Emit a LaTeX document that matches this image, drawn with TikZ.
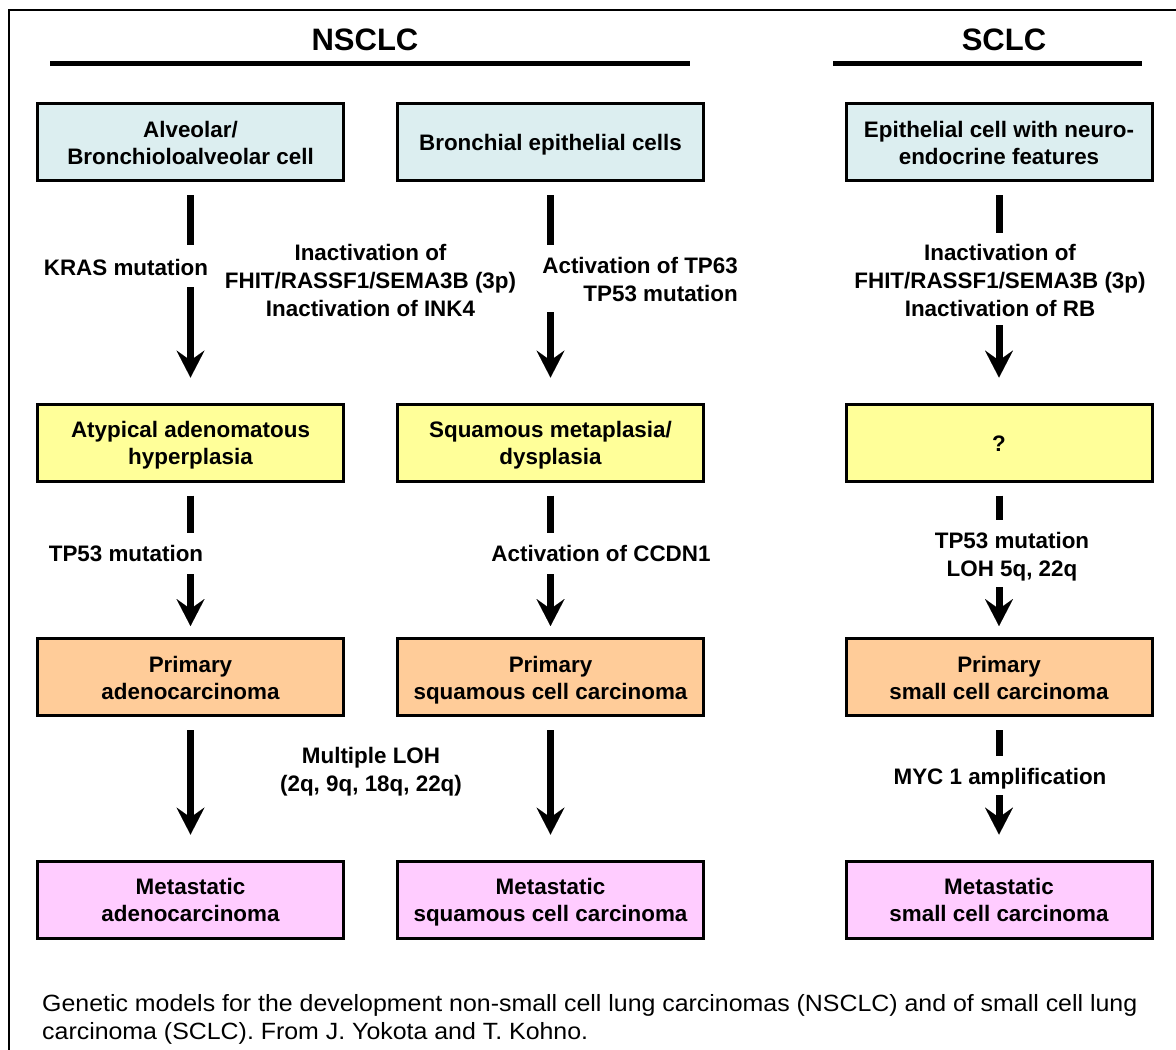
\documentclass[tikz,border=0pt]{standalone}
\usepackage{fontspec}
\setmainfont{Liberation Sans}
\usetikzlibrary{arrows.meta}
\definecolor{cellblue}{RGB}{220,238,240}
\definecolor{hypyellow}{RGB}{255,255,153}
\definecolor{primorange}{RGB}{255,204,153}
\definecolor{metapink}{RGB}{255,204,255}
\newcommand\bxfont{\fontsize{22.4}{27}\selectfont\bfseries}
\newcommand\lbfont{\fontsize{22.4}{28}\selectfont\bfseries}
\newcommand\ttlfont{\fontsize{31}{36}\selectfont\bfseries}
\newcommand\capfont{\fontsize{23.5}{28}\selectfont}
\newcommand\bs{\rule[-5pt]{0pt}{27pt}}
\newcommand\ls{\rule[-6pt]{0pt}{28pt}}
\begin{document}
\begin{tikzpicture}[x=1pt,y=-1pt,
  box/.style={draw=black, line width=3pt, minimum width=306pt, minimum height=77pt,
    inner sep=0pt, outer sep=0pt, align=center, font=\bxfont},
  lbl/.style={align=center, font=\lbfont, inner sep=0pt},
  ttl/.style={font=\ttlfont, inner sep=0pt},
  rule/.style={line width=5pt},
  seg/.style={line width=7pt},
  arr/.style={line width=7pt, -{Stealth[length=27pt,width=28pt,inset=10pt,line width=0.01pt]}},
  frame/.style={line width=2.5pt}
]
\useasboundingbox (0,0) rectangle (1176,1050);
\clip (0,0) rectangle (1176,1050);
\fill[white] (0,0) rectangle (1176,1050);
% outer frame (only top and left edges inside the picture)
\draw[frame] (9,1060) -- (9,10) -- (1190,10);

% titles
\node[ttl] (tn) at (365,40) {NSCLC};
\node[ttl] (ts) at (1004,40) {SCLC};
\draw[rule] (50,63.5) -- (690,63.5);
\draw[rule] (833,63.5) -- (1142,63.5);

% boxes
\node[box, fill=cellblue] (b11) at (190.5,142) {\bs Alveolar/\\\bs Bronchioloalveolar cell};
\node[box, fill=cellblue] (b12) at (550.5,142) {\bs Bronchial epithelial cells};
\node[box, fill=cellblue] (b13) at (999,142) {\bs Epithelial cell with neuro-\\\bs endocrine features};

\node[box, fill=hypyellow] (b21) at (190.5,442.5) {\bs Atypical adenomatous\\\bs hyperplasia};
\node[box, fill=hypyellow] (b22) at (550.5,442.5) {\bs Squamous metaplasia/\\\bs dysplasia};
\node[box, fill=hypyellow] (b23) at (999,442.5) {\bs ?};

\node[box, fill=primorange] (b31) at (190.5,677) {\bs Primary\\\bs adenocarcinoma};
\node[box, fill=primorange] (b32) at (550.5,677) {\bs Primary\\\bs squamous cell carcinoma};
\node[box, fill=primorange] (b33) at (999,677) {\bs Primary\\\bs small cell carcinoma};

\node[box, fill=metapink] (b41) at (190.5,899.5) {\bs Metastatic\\\bs adenocarcinoma};
\node[box, fill=metapink] (b42) at (550.5,899.5) {\bs Metastatic\\\bs squamous cell carcinoma};
\node[box, fill=metapink] (b43) at (999,899.5) {\bs Metastatic\\\bs small cell carcinoma};

% labels
\node[lbl] (l11) at (126,267) {\ls KRAS mutation};
\node[lbl] (l1c) at (370.5,280) {\ls Inactivation of\\\ls FHIT/RASSF1/SEMA3B (3p)\\\ls Inactivation of INK4};
\node[lbl, align=right, anchor=east] (l12) at (738,279.5) {\ls Activation of TP63\\\ls TP53 mutation};
\node[lbl] (l13) at (1000,280) {\ls Inactivation of\\\ls FHIT/RASSF1/SEMA3B (3p)\\\ls Inactivation of RB};
\node[lbl] (l21) at (126,553) {\ls TP53 mutation};
\node[lbl] (l22) at (601,553) {\ls Activation of CCDN1};
\node[lbl] (l23) at (1012,554) {\ls TP53 mutation\\\ls LOH 5q, 22q};
\node[lbl] (l3c) at (371,769.5) {\ls Multiple LOH\\\ls (2q, 9q, 18q, 22q)};
\node[lbl] (l33) at (1000,776) {\ls MYC 1 amplification};

% gap coordinates
\coordinate (a11) at (b11.south |- 0,245);  \coordinate (c11) at (b11.south |- 0,287);
\coordinate (a12) at (b12.south |- 0,245);  \coordinate (c12) at (b12.south |- 0,312);
\coordinate (a13) at (b13.south |- 0,233);  \coordinate (c13) at (b13.south |- 0,325);
\coordinate (a21) at (b21.south |- 0,533);  \coordinate (c21) at (b21.south |- 0,574);
\coordinate (a22) at (b22.south |- 0,533);  \coordinate (c22) at (b22.south |- 0,574);
\coordinate (a23) at (b23.south |- 0,520);  \coordinate (c23) at (b23.south |- 0,587);
\coordinate (a33) at (b33.south |- 0,756);  \coordinate (c33) at (b33.south |- 0,795);

% connectors row 1 -> row 2
\draw[seg, shorten <=14.5pt] (b11.south) -- (a11);
\draw[arr, shorten >=26.5pt] (c11) -- (b21.north);
\draw[seg, shorten <=14.5pt] (b12.south) -- (a12);
\draw[arr, shorten >=26.5pt] (c12) -- (b22.north);
\draw[seg, shorten <=14.5pt] (b13.south) -- (a13);
\draw[arr, shorten >=26.5pt] (c13) -- (b23.north);

% row 2 -> row 3
\draw[seg, shorten <=14.5pt] (b21.south) -- (a21);
\draw[arr, shorten >=12.5pt] (c21) -- (b31.north);
\draw[seg, shorten <=14.5pt] (b22.south) -- (a22);
\draw[arr, shorten >=12.5pt] (c22) -- (b32.north);
\draw[seg, shorten <=14.5pt] (b23.south) -- (a23);
\draw[arr, shorten >=12.5pt] (c23) -- (b33.north);

% row 3 -> row 4
\draw[arr, shorten <=14.5pt, shorten >=26.5pt] (b31.south) -- (b41.north);
\draw[arr, shorten <=14.5pt, shorten >=26.5pt] (b32.south) -- (b42.north);
\draw[seg, shorten <=14.5pt] (b33.south) -- (a33);
\draw[arr, shorten >=26.5pt] (c33) -- (b43.north);

% caption
\node[anchor=west, inner sep=0pt, font=\capfont] (cap) at (42,1019.5) {\scalebox{1.06}[1]{\begin{tabular}{@{}l@{}}Genetic models for the development non-small cell lung carcinomas (NSCLC) and of small cell lung\\carcinoma (SCLC). From J. Yokota and T. Kohno.\end{tabular}}};
\end{tikzpicture}
\end{document}
